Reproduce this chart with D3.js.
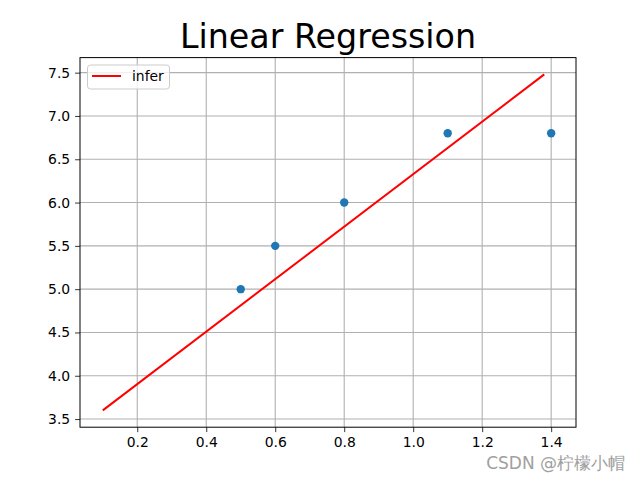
<!DOCTYPE html>
<html><head><meta charset="utf-8">
<script src="https://cdn.jsdelivr.net/npm/d3@7/dist/d3.min.js"></script>
<style>body{margin:0;background:#fff}svg{display:block}text{font-family:"DejaVu Sans",sans-serif}</style>
</head><body><svg id="c" width="640" height="480"></svg>
<script>
const scatterX = [0.5, 0.6, 0.8, 1.1, 1.4];
const scatterY = [5.0, 5.5, 6.0, 6.8, 6.8];
const lineX = [0.1, 1.38];
const lineY = [3.6, 7.48];
const xTicks = [0.2, 0.4, 0.6, 0.8, 1.0, 1.2, 1.4];
const yTicks = [3.5, 4.0, 4.5, 5.0, 5.5, 6.0, 6.5, 7.0, 7.5];
const title = "Linear Regression";
const legendLabel = "infer";

const svg = d3.select("#c");
const L = 80, R = 576, T = 57.6, B = 427.2;
const x = d3.scaleLinear().domain([0.034, 1.472]).range([L, R]);
const y = d3.scaleLinear().domain([3.406, 7.674]).range([B, T]);

// grid
const g = svg.append("g");
g.selectAll(".gx").data(xTicks).join("line")
  .attr("x1", d => x(d)).attr("x2", d => x(d)).attr("y1", T).attr("y2", B)
  .attr("stroke", "#b0b0b0").attr("stroke-width", 1.1);
g.selectAll(".gy").data(yTicks).join("line")
  .attr("y1", d => y(d)).attr("y2", d => y(d)).attr("x1", L).attr("x2", R)
  .attr("stroke", "#b0b0b0").attr("stroke-width", 1.1);

// line
const lineData = lineX.map((v, i) => [v, lineY[i]]);
svg.append("path").datum(lineData)
  .attr("d", d3.line().x(d => x(d[0])).y(d => y(d[1])))
  .attr("fill", "none").attr("stroke", "red").attr("stroke-width", 2);

// scatter
svg.selectAll(".pt").data(scatterX).join("circle")
  .attr("cx", d => x(d)).attr("cy", (d, i) => y(scatterY[i])).attr("r", 4.2)
  .attr("fill", "#1f77b4");

// axes
const xa = svg.append("g").attr("transform", `translate(0,${B})`)
  .call(d3.axisBottom(x).tickValues(xTicks).tickFormat(d3.format(".1f")).tickSizeOuter(0).tickSize(4.9).tickPadding(4.9));
const ya = svg.append("g").attr("transform", `translate(${L},0)`)
  .call(d3.axisLeft(y).tickValues(yTicks).tickFormat(d3.format(".1f")).tickSizeOuter(0).tickSize(4.9).tickPadding(4.9));
[xa, ya].forEach(a => {
  a.select(".domain").remove();
  a.selectAll("line").attr("stroke", "#000").attr("stroke-width", 0.8);
  a.selectAll("text").attr("font-size", "13.9px").attr("fill", "#000").attr("font-family", "DejaVu Sans");
});

// frame
svg.append("rect").attr("x", L).attr("y", T).attr("width", R - L).attr("height", B - T)
  .attr("fill", "none").attr("stroke", "#000").attr("stroke-width", 1);

// title
svg.append("text").attr("x", (L + R) / 2).attr("y", 48).attr("text-anchor", "middle")
  .attr("font-size", "33.3px").attr("fill", "#000").text(title);

// legend
const lg = svg.append("g");
lg.append("rect").attr("x", 87.5).attr("y", 65).attr("width", 82).attr("height", 24).attr("rx", 3)
  .attr("fill", "#fff").attr("fill-opacity", 0.8).attr("stroke", "#cccccc").attr("stroke-width", 1);
lg.append("line").attr("x1", 92).attr("x2", 121).attr("y1", 76).attr("y2", 76)
  .attr("stroke", "red").attr("stroke-width", 2);
lg.append("text").attr("x", 132).attr("y", 81).attr("font-size", "13.9px").attr("fill", "#000").text(legendLabel);

// watermark
svg.append("text").attr("x", 625).attr("y", 469).attr("text-anchor", "end")
  .attr("font-size", "17px").attr("fill", "#a0a0a0")
  .attr("font-family", "'Noto Sans CJK SC', 'DejaVu Sans', sans-serif").text("CSDN @柠檬小帽");
</script></body></html>
